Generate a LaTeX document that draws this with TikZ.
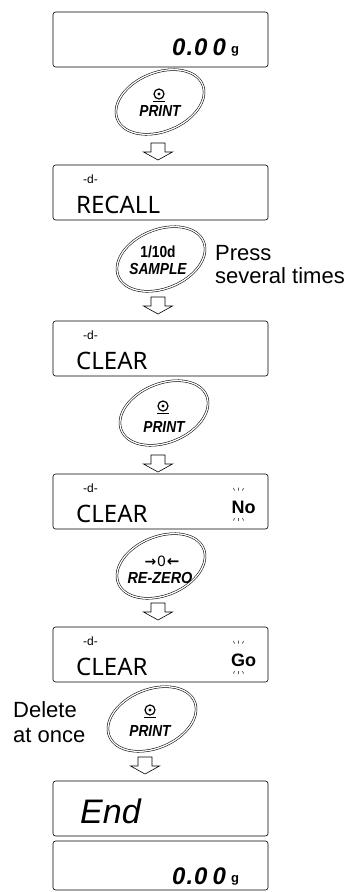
\documentclass[tikz,border=0pt]{standalone}
\usepackage{fontspec}
\setmainfont{Liberation Sans}
\newfontfamily\dispfont{Noto Sans}
\newfontfamily\symfont{DejaVu Sans}
\usetikzlibrary{shapes.geometric}
\newcommand{\narrowtxt}[1]{\scalebox{0.86}[1]{#1}}
\begin{document}
\begin{tikzpicture}[x=1pt,y=-1pt,
 dispbox/.style={draw,line width=0.6pt,rounded corners=2.5pt,minimum width=215pt,minimum height=55pt,inner sep=0pt},
 keybtn/.style={draw,ellipse,double,double distance=1.3pt,line width=0.55pt,minimum width=92pt,minimum height=59pt,inner sep=0pt,rotate=22},
 keytop/.style={inner sep=0pt,font=\fontsize{16}{16}\selectfont\bfseries},
 keybot/.style={inner sep=0pt,font=\fontsize{16}{16}\selectfont\bfseries\itshape},
 modetxt/.style={inner sep=0pt,anchor=base west,font=\fontsize{12}{12}\selectfont},
 dtxt/.style={inner sep=0pt,anchor=base west,font=\dispfont\fontsize{24}{24}\selectfont},
 flag/.style={inner sep=0pt,anchor=base,font=\bfseries\fontsize{18}{18}\selectfont},
 segtxt/.style={inner sep=0pt,anchor=base west,font=\fontsize{24}{24}\selectfont\bfseries\itshape},
 unit/.style={inner sep=0pt,anchor=base west,font=\fontsize{13}{13}\selectfont\bfseries},
 endtxt/.style={inner sep=0pt,anchor=base west,font=\fontsize{34}{34}\selectfont\itshape},
 note/.style={inner sep=0pt,anchor=base west,font=\fontsize{22}{22}\selectfont},
 hollowarrow/.pic={\draw[line width=0.6pt,line join=miter] (-7,0)--(7,0)--(7,9)--(14.5,9)--(0,17)--(-14.5,9)--(-7,9)--cycle;},
 printsym/.pic={\draw[line width=1.2pt] (0,0) circle (5pt); \fill (0,0) circle (1.6pt); \draw[line width=1.5pt] (-6,7.5)--(6,7.5);},
 sparkle/.pic={\draw[line width=0.5pt] (-5,-18)--(-4,-15.5) (0,-18.5)--(0,-15.5) (5,-18)--(4,-15.5)
                (-4,12)--(-5,14.5) (0,12)--(0,15) (4,12)--(5,14.5);}
]
\useasboundingbox (0,0) rectangle (360,892);

% displays
\node[dispbox] (d1) at (160.5,39.5) {};
\node[dispbox] (d2) at (160.5,192.5) {};
\node[dispbox] (d3) at (160.5,348.5) {};
\node[dispbox] (d4) at (160.5,501.5) {};
\node[dispbox] (d5) at (160.5,654.5) {};
\node[dispbox] (d6) at (160.5,808.5) {};
\node[dispbox,minimum height=49pt] (d7) at (160.5,865.5) {};

% display contents
\node[segtxt] (d1v) at (172,55) {0\kern1pt.\kern1pt0\kern5pt0};
\node[unit] (d1u) at (231,53) {g};
\node[modetxt] (d2m) at (83,183) {-d-};
\node[dtxt] (d2t) at (76,213) {RECALL};
\node[modetxt] (d3m) at (83,339) {-d-};
\node[dtxt] (d3t) at (76,369) {CLEAR};
\node[modetxt] (d4m) at (83,492) {-d-};
\node[dtxt] (d4t) at (76,522) {CLEAR};
\node[flag] (d4f) at (243.5,513) {No};
\pic at (238.5,506) {sparkle};
\node[modetxt] (d5m) at (83,645) {-d-};
\node[dtxt] (d5t) at (76,675) {CLEAR};
\node[flag] (d5f) at (243.5,666) {Go};
\pic at (238.5,659) {sparkle};
\node[endtxt] (d6t) at (80,823) {End};
\node[segtxt] (d7v) at (172,884) {0\kern1pt.\kern1pt0\kern5pt0};
\node[unit] (d7u) at (231,882) {g};

% keys
\node[keybtn] (k1) at (160,102) {};
\pic at (159,94) {printsym};
\node[keybot] (k1t) at (160,111) {\narrowtxt{PRINT}};

\node[keybtn] (k2) at (161,259) {};
\node[keytop] (k2a) at (158,252) {\narrowtxt{1/10d}};
\node[keybot] (k2t) at (158,269) {\narrowtxt{SAMPLE}};

\node[keybtn] (k3) at (164,413) {};
\pic at (163,406) {printsym};
\node[keybot] (k3t) at (164,427) {\narrowtxt{PRINT}};

\node[keybtn] (k4) at (161,566) {};
\node[inner sep=0pt,font=\symfont\bfseries\fontsize{14}{14}\selectfont] (k4a) at (162,561) {→\kern1pt\normalfont\fontsize{15}{15}\selectfont 0\kern1pt\symfont\bfseries ←};
\node[inner sep=0pt,font=\fontsize{16}{16}\selectfont\bfseries\itshape] (k4t) at (160,578) {\scalebox{0.9}[1]{RE-ZERO}};

\node[keybtn] (k5) at (152,719) {};
\pic at (150,710) {printsym};
\node[keybot] (k5t) at (150,731) {\narrowtxt{PRINT}};

% arrows
\pic at (158,143) {hollowarrow};
\pic at (158,297) {hollowarrow};
\pic at (158,455) {hollowarrow};
\pic at (158,603) {hollowarrow};
\pic at (145,757) {hollowarrow};

% notes
\node[note] (n1) at (215,260) {Press};
\node[note] (n2) at (215,283) {several times};
\node[note] (n3) at (13,717) {Delete};
\node[note] (n4) at (13,742) {at once};
\end{tikzpicture}
\end{document}
